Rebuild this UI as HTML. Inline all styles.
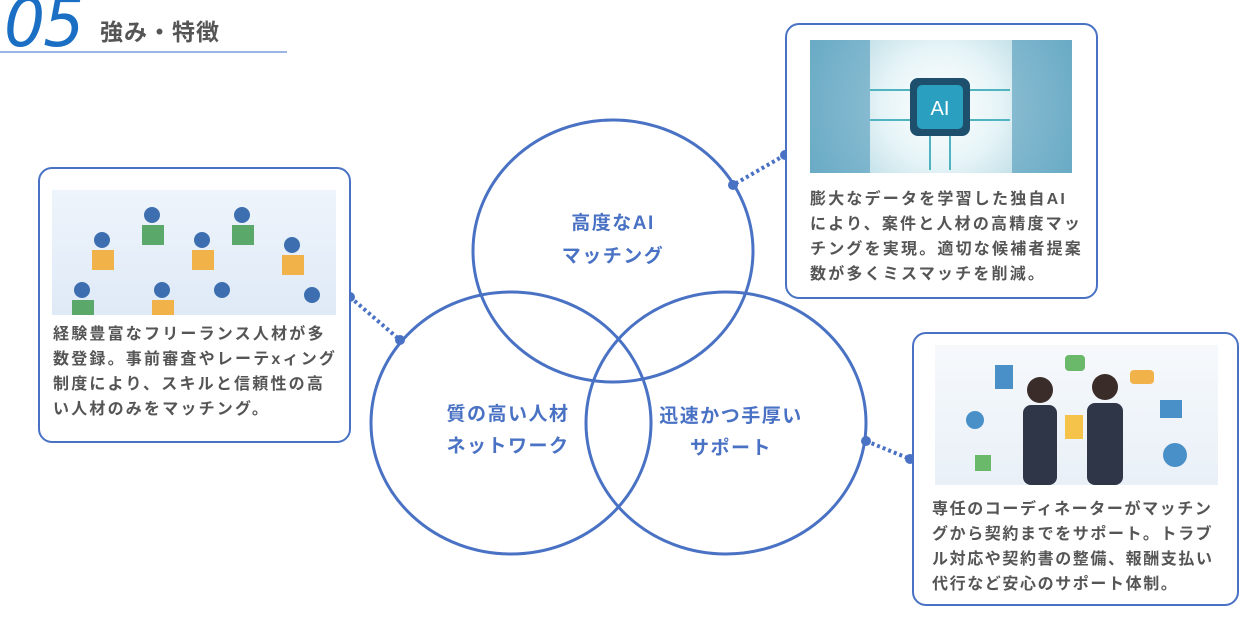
<!DOCTYPE html>
<html><head><meta charset="utf-8"><style>
body{margin:0;width:1250px;height:623px;background:#fff;position:relative;overflow:hidden;font-family:"Liberation Sans","Noto Sans CJK JP",sans-serif}
.box{position:absolute;border:2px solid #4a72c4;border-radius:14px;background:#fff;box-sizing:border-box}
.img{position:absolute}
.txt{position:absolute;font-size:16px;font-weight:bold;color:#555;line-height:25px;letter-spacing:2.2px;white-space:nowrap}
</style></head><body>
<div style="position:absolute;left:4px;top:-16px;font-size:68px;font-style:italic;color:#1a6fc4;font-family:'DejaVu Sans',sans-serif;font-weight:200;letter-spacing:-2px;transform:scaleX(0.95);transform-origin:left">05</div>
<div style="position:absolute;left:100px;top:13px;font-size:23px;font-weight:bold;color:#555;letter-spacing:1px">強み・特徴</div>
<div style="position:absolute;left:0;top:51px;width:287px;height:2px;background:#9bb5e6"></div>

<svg width="1250" height="623" style="position:absolute;left:0;top:0">
<g fill="none" stroke="#4a72c4" stroke-width="3">
<ellipse cx="613" cy="251" rx="140" ry="131"/>
<ellipse cx="511" cy="423" rx="140" ry="131"/>
<ellipse cx="726" cy="423" rx="140" ry="131"/>
</g>
<g stroke="#4a72c4" stroke-width="4" stroke-dasharray="3 3">
<line x1="350" y1="297" x2="400" y2="340"/>
<line x1="785" y1="155" x2="733" y2="185"/>
<line x1="866" y1="441" x2="910" y2="459"/>
</g>
<g fill="#4a72c4">
<circle cx="400" cy="340" r="5"/><circle cx="733" cy="185" r="5"/><circle cx="866" cy="441" r="5"/>
<circle cx="350" cy="297" r="5"/><circle cx="785" cy="155" r="5"/><circle cx="910" cy="459" r="5"/>
</g>
<g fill="#4a72c4" font-weight="bold" font-size="19" text-anchor="middle" font-family="Liberation Sans, Noto Sans CJK JP, sans-serif" letter-spacing="1.5">
<text x="613" y="229">高度なAI</text><text x="613" y="262">マッチング</text>
<text x="508" y="420">質の高い人材</text><text x="508" y="452">ネットワーク</text>
<text x="731" y="422">迅速かつ手厚い</text><text x="731" y="454">サポート</text>
</g>
</svg>

<div class="box" style="left:38px;top:167px;width:313px;height:276px"></div>
<div class="img" style="left:52px;top:190px;width:284px;height:125px;background:linear-gradient(180deg,#eef4fb,#dfeaf7)">
<svg width="284" height="125"><g fill="#3d6fb0"><circle cx="50" cy="50" r="8"/><circle cx="100" cy="25" r="8"/><circle cx="150" cy="50" r="8"/><circle cx="190" cy="25" r="8"/><circle cx="240" cy="55" r="8"/><circle cx="30" cy="100" r="8"/><circle cx="110" cy="100" r="8"/><circle cx="170" cy="100" r="8"/><circle cx="260" cy="105" r="8"/></g><g fill="#f2b24a"><rect x="40" y="60" width="22" height="20"/><rect x="140" y="60" width="22" height="20"/><rect x="230" y="65" width="22" height="20"/><rect x="100" y="110" width="22" height="15"/></g><g fill="#5aa86a"><rect x="90" y="35" width="22" height="20"/><rect x="180" y="35" width="22" height="20"/><rect x="20" y="110" width="22" height="15"/></g></svg></div>
<div class="txt" style="left:53px;top:322px">経験豊富なフリーランス人材が多<br>数登録。事前審査やレーテxィング<br>制度により、スキルと信頼性の高<br>い人材のみをマッチング。</div>

<div class="box" style="left:785px;top:23px;width:313px;height:276px"></div>
<div class="img" style="left:810px;top:40px;width:262px;height:133px;background:radial-gradient(circle at 50% 50%,#fff 0,#e6f4f7 40%,#9ccbd8 100%)">
<svg width="262" height="133"><rect x="0" y="0" width="60" height="133" fill="#3f8fb5" opacity=".55"/><rect x="202" y="0" width="60" height="133" fill="#3f8fb5" opacity=".55"/><g stroke="#4fb4c0" stroke-width="2"><line x1="60" y1="50" x2="100" y2="50"/><line x1="60" y1="80" x2="100" y2="80"/><line x1="160" y1="50" x2="200" y2="50"/><line x1="160" y1="80" x2="200" y2="80"/><line x1="120" y1="95" x2="120" y2="130"/><line x1="140" y1="95" x2="140" y2="130"/></g><rect x="100" y="38" width="60" height="58" rx="8" fill="#1e4f6d"/><rect x="107" y="45" width="46" height="44" rx="5" fill="#2b9fc0"/><text x="130" y="75" fill="#fff" font-size="20" text-anchor="middle" font-family="Liberation Sans">AI</text></svg></div>
<div class="txt" style="left:810px;top:187px">膨大なデータを学習した独自AI<br>により、案件と人材の高精度マッ<br>チングを実現。適切な候補者提案<br>数が多くミスマッチを削減。</div>

<div class="box" style="left:912px;top:332px;width:327px;height:274px"></div>
<div class="img" style="left:935px;top:345px;width:283px;height:140px;background:linear-gradient(180deg,#f6f9fc,#e9f0f7)">
<svg width="283" height="140"><g fill="#2f3648"><rect x="88" y="60" width="34" height="80" rx="8"/><rect x="152" y="58" width="36" height="82" rx="8"/></g><circle cx="105" cy="45" r="13" fill="#3a2c28"/><circle cx="170" cy="42" r="13" fill="#3a2c28"/><rect x="130" y="70" width="18" height="24" fill="#f5c24a"/><g fill="#4a90c8"><circle cx="40" cy="75" r="9"/><circle cx="240" cy="110" r="12"/><rect x="225" y="55" width="22" height="18"/><rect x="60" y="20" width="18" height="24"/></g><g fill="#f2b24a"><rect x="195" y="25" width="24" height="14" rx="4"/></g><g fill="#6ab86a"><rect x="130" y="10" width="20" height="16" rx="4"/><rect x="40" y="110" width="16" height="16"/></g></svg></div>
<div class="txt" style="left:932px;top:497px;letter-spacing:1.6px">専任のコーディネーターがマッチン<br>グから契約までをサポート。トラブ<br>ル対応や契約書の整備、報酬支払い<br>代行など安心のサポート体制。</div>
</body></html>
